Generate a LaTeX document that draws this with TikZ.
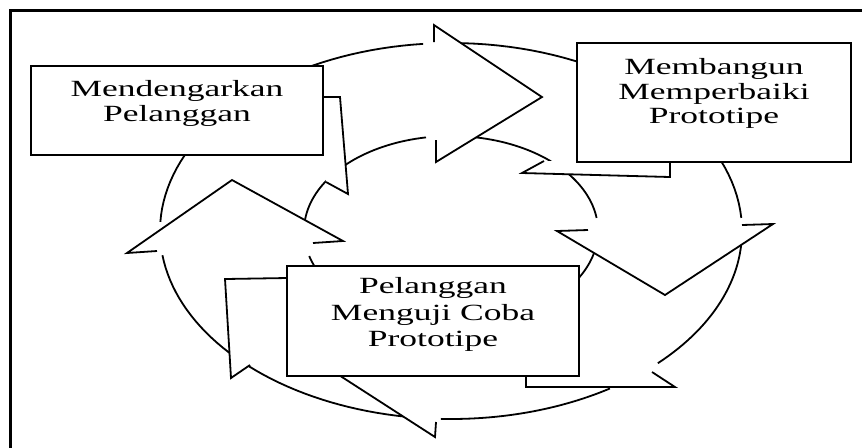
\documentclass[tikz,border=0pt]{standalone}
\usepackage{graphicx}
\usepackage{fontspec}
\setmainfont{Liberation Serif}
\usetikzlibrary{positioning,calc}

\tikzset{
  box/.style={draw, fill=white, line width=1.1pt, inner sep=0pt, outer sep=0pt},
  boxtext/.style={anchor=north, inner sep=0pt, font=\fontsize{11.6}{12.25}\selectfont},
  ring/.style={line width=0.9pt, line join=miter},
  frameline/.style={line width=1.5pt},
}
\newcommand{\widetext}[1]{\scalebox{1.53}[1]{\begin{tabular}{@{}c@{}}#1\end{tabular}}}

\begin{document}
\begin{tikzpicture}[x=0.5pt, y=-0.5pt]
  % \draw[step=10, gray!20!white, very thin] (0,0) grid (862,447);
  \useasboundingbox (0,0) rectangle (862,447);

  % outer edge of the ring
  \draw[ring] plot[domain=182.8:264.5, samples=40] ({451+291*cos(\x)}, {231+188*sin(\x)});
  \draw[ring] plot[domain=268:356, samples=40] ({451+291*cos(\x)}, {231+188*sin(\x)});
  \draw[ring] plot[domain=1:44.7, samples=30] ({451+291*cos(\x)}, {231+188*sin(\x)});
  \draw[ring] plot[domain=56.9:92, samples=30] ({451+291*cos(\x)}, {231+188*sin(\x)});
  \draw[ring] plot[domain=97:172.6, samples=40] ({451+291*cos(\x)}, {231+188*sin(\x)});

  % inner edge of the ring
  \draw[ring] plot[domain=184:260.2, samples=40] ({451+147*cos(\x)}, {231+95*sin(\x)});
  \draw[ring] plot[domain=274:352.1, samples=40] ({451+147*cos(\x)}, {231+95*sin(\x)});
  \draw[ring] plot[domain=8:60, samples=30] ({451+147*cos(\x)}, {231+95*sin(\x)});
  \draw[ring] plot[domain=130:164.7, samples=20] ({451+147*cos(\x)}, {231+95*sin(\x)});

  % arrow heads
  \draw[ring, fill=white] (434,42) -- (434,25) -- (542,97) -- (436,162) -- (436,140);
  \draw[ring, fill=white] (588,230) -- (557,231) -- (665,295) -- (773,224) -- (742,225);
  \draw[ring, fill=white] (157,251) -- (127,253) -- (232,180) -- (343,241) -- (313,243);
  \draw[ring, fill=white] (436,422) -- (435,437) -- (328,368) -- (435,300);

  % tails behind the boxes
  \draw[ring, fill=white] (323,97) -- (340,97) -- (348,194) -- (326,182);
  \draw[ring, fill=white] (287,278) -- (225,279) -- (231,378) -- (250,365);
  \draw[ring, fill=white] (670,162) -- (670,177) -- (522,173) -- (544,161);
  \draw[ring, fill=white] (526,377) -- (526,387) -- (675,387) -- (652,372);

  \node[box, minimum width=146pt, minimum height=44.5pt] at (177,110.5) (listen) {};
  \node[box, minimum width=137pt, minimum height=59.5pt] at (714,102.5) (build) {};
  \node[box, minimum width=146pt, minimum height=55pt] at (433,321) (test) {};

  \node[boxtext] at (177,79) (listentext) {\widetext{Mendengarkan\\Pelanggan}};
  \node[boxtext] at (714,57) (buildtext) {\widetext{Membangun\\Memperbaiki\\Prototipe}};
  \node[boxtext] at (433,276) (testtext) {\widetext{Pelanggan\\[1pt]Menguji Coba\\[1pt]Prototipe}};

  \draw[frameline] (10,470) |- (880,10);
\end{tikzpicture}
\end{document}
